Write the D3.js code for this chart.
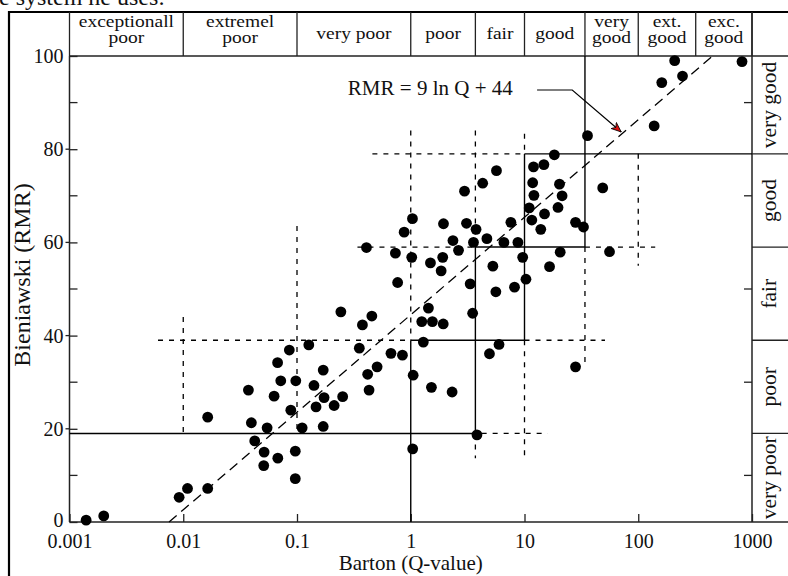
<!DOCTYPE html>
<html>
<head>
<meta charset="utf-8">
<script src="https://cdn.jsdelivr.net/npm/d3@7"></script>
<style>
    body { margin: 0; background: #fff; }
    svg text { font-family: "Liberation Serif", "Times New Roman", serif; fill: #111; }
</style>
</head>
<body>
<div id="chart"></div>
<script>

// Barton Q-value of each case
const qValues = [
    0.0014, 0.002, 0.0092, 0.0109, 0.0164, 0.0164, 0.0374, 0.0629, 0.072, 0.0976,
    0.141, 0.0397, 0.0546, 0.0882, 0.111, 0.147, 0.173, 0.212, 0.252, 0.170,
    0.43, 0.0425, 0.0514, 0.051, 0.0678, 0.0966, 0.0966, 1.52, 2.31, 1.04,
    3.82, 0.243, 0.127, 0.0856, 0.0675, 0.170, 0.408, 0.733, 0.767, 0.376,
    0.455, 0.353, 0.67, 0.845, 0.418, 0.506, 1.035, 0.875, 1.94, 3.09,
    3.75, 2.35, 2.63, 3.56, 4.67, 1.02, 1.49, 1.91, 1.85, 5.27,
    3.33, 5.60, 1.43, 1.25, 1.55, 1.93, 3.50, 1.29, 5.97, 4.92,
    1.05, 5.67, 4.29, 2.97, 12.0, 14.8, 18.3, 11.8, 20.3, 12.1,
    21.4, 48.7, 11.0, 19.7, 15.0, 11.6, 7.59, 13.9, 28.1, 33.0,
    6.59, 8.75, 20.6, 55.9, 9.64, 16.6, 10.3, 8.17, 28.1, 35.8,
    138, 161, 209, 245, 817
]

// Bieniawski RMR of the same cases
const rmrValues = [
    0.4, 1.3, 5.3, 7.2, 7.2, 22.5, 28.3, 27.0, 30.3, 30.3,
    29.3, 21.3, 20.2, 24.0, 20.2, 24.7, 26.7, 25.0, 26.9, 20.5,
    28.3, 17.4, 15.0, 12.1, 13.7, 15.2, 9.3, 28.9, 27.9, 15.7,
    18.7, 45.1, 38.0, 36.9, 34.2, 32.6, 58.9, 57.7, 51.4, 42.3,
    44.2, 37.3, 36.2, 35.8, 31.7, 33.3, 65.1, 62.2, 64.0, 64.1,
    62.8, 60.4, 58.3, 60.0, 60.8, 56.8, 55.6, 56.8, 53.9, 54.9,
    51.1, 49.4, 45.9, 43.0, 43.0, 42.5, 44.8, 38.6, 38.1, 36.1,
    31.5, 75.4, 72.7, 71.0, 76.2, 76.7, 78.8, 72.8, 72.5, 70.1,
    70.0, 71.7, 67.4, 67.5, 66.1, 64.8, 64.3, 62.8, 64.3, 63.3,
    60.0, 60.0, 57.9, 58.0, 56.8, 54.8, 52.1, 50.4, 33.3, 82.9,
    85.0, 94.3, 99.0, 95.7, 98.8
]

// Q classes (top band)
const qClassBounds = [0.001, 0.01, 0.1, 1, 3.7, 10, 34, 100, 320, 1000]
const qClassLabels = [
    ["exceptionall", "poor"], ["extremel", "poor"], ["very poor"], ["poor"], ["fair"],
    ["good"], ["very", "good"], ["ext.", "good"], ["exc.", "good"]
]

// RMR classes (right band)
const rmrClassBounds = [0, 19, 39, 59, 79, 100]
const rmrClassLabels = ["very poor", "poor", "fair", "good", "very good"]

// Axis ticks
const xTickValues = [0.001, 0.01, 0.1, 1, 10, 100, 1000]
const xTickLabels = ["0.001", "0.01", "0.1", "1", "10", "100", "1000"]
const yTickValues = [0, 20, 40, 60, 80, 100]
const yMinorTicks = [10, 30, 50, 70, 90]

// Class boundary lines [q1, rmr1, q2, rmr2]
const solidLines = [
    [0.001, 19, 3.7, 19], [1, 0, 1, 39], [1, 39, 10, 39], [3.7, 19, 3.7, 59],
    [3.7, 59, 34, 59], [10, 39, 10, 79], [10, 79, 1000, 79], [34, 59, 34, 100]
]
const dashedLines = [
    [4.2, 19, 16, 19], [0.01, 44, 0.01, 19], [0.006, 39, 1, 39], [0.1, 63.5, 0.1, 19],
    [1, 84, 1, 39], [0.34, 59, 3.7, 59], [3.7, 84, 3.7, 59], [3.7, 19, 3.7, 13.7],
    [0.46, 79, 10, 79], [10, 83.3, 10, 79], [10, 39, 10, 14.2], [10, 39, 51, 39],
    [34, 59, 141, 59], [34, 59, 34, 33.7], [100, 79, 100, 55]
]

// Regression line and its label
const fitLine = [[0.0075, 0], [450, 100]]
const fitLabel = "RMR = 9 ln Q + 44"
const fitLabelAt = [0.28, 91.6]
const fitLeader = [[12.9, 92.7], [26.3, 92.7], [70.9, 83.7]]

class RmrQChart {

    draw() {

        // Canvas and plot frame
        const width = 788, height = 576
        const plot = { left: 69.5, right: 752, top: 56, bottom: 522 }
        const frame = { left: 9, top: 12, right: 788 }

        const svg = d3.select("#chart")
            .append("svg")
            .attr("width", width)
            .attr("height", height)

        const xScale = d3.scaleLog().domain([0.001, 1000]).range([plot.left, plot.right])
        const yScale = d3.scaleLinear().domain([0, 100]).range([plot.bottom, plot.top])

        // Clipped page text above the figure
        svg.append("text")
            .attr("x", 165)
            .attr("y", 5)
            .attr("text-anchor", "end")
            .attr("font-size", 24)
            .text("e system he uses:")

        // Outer frame
        svg.append("path")
            .attr("d", `M${frame.left},${height + 10}V${frame.top}H${frame.right + 10}`)
            .attr("fill", "none")
            .attr("stroke", "#000")
            .attr("stroke-width", 2.2)

        // Top band: Q classes
        svg.selectAll(".qdiv")
            .data(qClassBounds)
            .enter()
            .append("line")
            .attr("x1", d => xScale(d))
            .attr("x2", d => xScale(d))
            .attr("y1", frame.top)
            .attr("y2", plot.top)
            .attr("stroke", "#222")
            .attr("stroke-width", 1.3)

        // Header text is short and wide in the original, squeeze it vertically
        const squeeze = 0.84
        const qLabel = svg.selectAll(".qlabel")
            .data(qClassLabels)
            .enter()
            .append("text")
            .attr("text-anchor", "middle")
            .attr("font-size", 19.5)
            .attr("transform", (d, i) => {
                const cx = (xScale(qClassBounds[i]) + xScale(qClassBounds[i + 1])) / 2
                return `translate(${cx},0) scale(1,${squeeze})`
            })

        qLabel.selectAll("tspan")
            .data(d => d.map((t, j) => ({ t: t, j: j, n: d.length })))
            .enter()
            .append("tspan")
            .attr("x", 0)
            .attr("y", d => (d.n === 1 ? 39 : 27 + d.j * 16) / squeeze)
            .text(d => d.t)

        // Right band: RMR classes
        svg.selectAll(".rdiv")
            .data(rmrClassBounds.slice(1, -1))
            .enter()
            .append("line")
            .attr("x1", plot.right)
            .attr("x2", frame.right)
            .attr("y1", d => yScale(d))
            .attr("y2", d => yScale(d))
            .attr("stroke", "#222")
            .attr("stroke-width", 1.3)

        svg.selectAll(".rlabel")
            .data(rmrClassLabels)
            .enter()
            .append("text")
            .attr("text-anchor", "middle")
            .attr("font-size", 21.5)
            .attr("transform", (d, i) => {
                const cy = (yScale(rmrClassBounds[i]) + yScale(rmrClassBounds[i + 1])) / 2
                return `translate(776,${cy}) rotate(-90)`
            })
            .text(d => d)

        // Plot border lines
        const border = [
            [plot.left, plot.top, frame.right, plot.top],
            [plot.left, plot.bottom, frame.right, plot.bottom],
            [plot.left, plot.top, plot.left, plot.bottom],
            [plot.right, frame.top, plot.right, plot.bottom]
        ]
        svg.selectAll(".border")
            .data(border)
            .enter()
            .append("line")
            .attr("x1", d => d[0]).attr("y1", d => d[1])
            .attr("x2", d => d[2]).attr("y2", d => d[3])
            .attr("stroke", "#222")
            .attr("stroke-width", 1.5)

        // Axes
        const xAxis = svg.append("g")
            .attr("transform", `translate(0,${plot.bottom})`)
            .call(d3.axisBottom(xScale)
                .tickValues(xTickValues)
                .tickFormat((d, i) => xTickLabels[i])
                .tickSize(-8)
                .tickSizeOuter(0)
                .tickPadding(12))
        xAxis.select(".domain").remove()

        const yAxis = svg.append("g")
            .attr("transform", `translate(${plot.left},0)`)
            .call(d3.axisLeft(yScale)
                .tickValues(yTickValues)
                .tickSize(-8)
                .tickSizeOuter(0)
                .tickPadding(6))
        yAxis.select(".domain").remove()

        svg.selectAll(".tick line").attr("stroke", "#222").attr("stroke-width", 1.3)
        svg.selectAll(".tick text")
            .attr("font-family", null)
            .attr("font-size", 20)
            .style("fill", "#111")

        // The "0" label sits a little high in the original
        yAxis.selectAll(".tick text").filter(d => d === 0).attr("dy", "0.2em")

        // Major ticks poke out of the left axis
        svg.selectAll(".ymajor")
            .data(yTickValues.slice(1, -1))
            .enter()
            .append("line")
            .attr("x1", plot.left - 4)
            .attr("x2", plot.left)
            .attr("y1", d => yScale(d))
            .attr("y2", d => yScale(d))
            .attr("stroke", "#222")
            .attr("stroke-width", 1.3)

        // Minor ticks on both sides
        for (const side of [[plot.left, 8], [plot.right, -8]]) {
            svg.selectAll(null)
                .data(yMinorTicks)
                .enter()
                .append("line")
                .attr("x1", side[0])
                .attr("x2", side[0] + side[1])
                .attr("y1", d => yScale(d))
                .attr("y2", d => yScale(d))
                .attr("stroke", "#222")
                .attr("stroke-width", 1.3)
        }

        // Axis titles
        svg.append("text")
            .attr("x", xScale(1))
            .attr("y", 570)
            .attr("text-anchor", "middle")
            .attr("font-size", 21)
            .text("Barton (Q-value)")

        svg.append("text")
            .attr("transform", "translate(30,275) rotate(-90)")
            .attr("text-anchor", "middle")
            .attr("font-size", 24)
            .text("Bieniawski (RMR)")

        // Class boundary lines
        svg.selectAll(".solid")
            .data(solidLines)
            .enter()
            .append("line")
            .attr("x1", d => xScale(d[0])).attr("y1", d => yScale(d[1]))
            .attr("x2", d => xScale(d[2])).attr("y2", d => yScale(d[3]))
            .attr("stroke", "#000")
            .attr("stroke-width", 1.4)

        svg.selectAll(".dashed")
            .data(dashedLines)
            .enter()
            .append("line")
            .attr("x1", d => xScale(d[0])).attr("y1", d => yScale(d[1]))
            .attr("x2", d => xScale(d[2])).attr("y2", d => yScale(d[3]))
            .attr("stroke", "#000")
            .attr("stroke-width", 1.3)
            .attr("stroke-dasharray", "5,6")

        // Regression line
        svg.append("path")
            .datum(fitLine)
            .attr("d", d3.line().x(d => xScale(d[0])).y(d => yScale(d[1])))
            .attr("fill", "none")
            .attr("stroke", "#000")
            .attr("stroke-width", 1.3)
            .attr("stroke-dasharray", "10,6")

        // Points
        svg.append("g")
            .selectAll("circle")
            .data(qValues.map((q, i) => ({ q: q, r: rmrValues[i] })))
            .enter()
            .append("circle")
            .attr("cx", d => xScale(d.q))
            .attr("cy", d => yScale(d.r))
            .attr("r", 5.4)
            .attr("fill", "#000")

        // Equation label with leader arrow
        svg.append("text")
            .attr("x", xScale(fitLabelAt[0]))
            .attr("y", yScale(fitLabelAt[1]))
            .attr("font-size", 21)
            .text(fitLabel)

        svg.append("defs").append("marker")
            .attr("id", "arrow")
            .attr("viewBox", "0 0 10 10")
            .attr("refX", 10)
            .attr("refY", 5)
            .attr("markerWidth", 10)
            .attr("markerHeight", 10)
            .attr("markerUnits", "userSpaceOnUse")
            .attr("orient", "auto")
            .append("path")
            .attr("d", "M0,1 L10,5 L0,9 L3,5 Z")
            .attr("fill", "#e01010")
            .attr("stroke", "#000")
            .attr("stroke-width", 0.8)

        svg.append("path")
            .datum(fitLeader)
            .attr("d", d3.line().x(d => xScale(d[0])).y(d => yScale(d[1])))
            .attr("fill", "none")
            .attr("stroke", "#000")
            .attr("stroke-width", 1.2)
            .attr("marker-end", "url(#arrow)")
    }
}

new RmrQChart().draw()
</script>
</body>
</html>
